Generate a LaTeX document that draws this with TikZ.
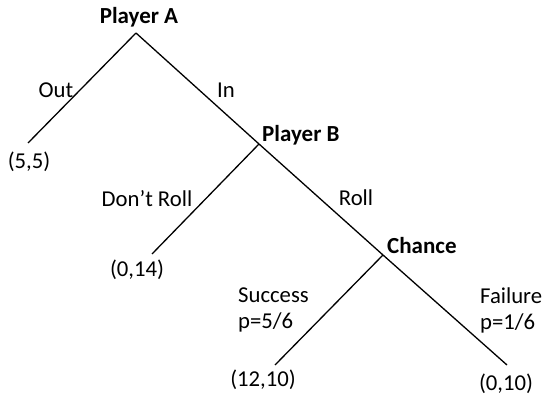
\documentclass[tikz,border=0pt]{standalone}
\usepackage{fontspec}
\setmainfont{Carlito}
\begin{document}
\begin{tikzpicture}[x=1pt,y=-1pt,
  branch/.style={line width=1.3pt,black},
  lbl/.style={inner sep=0pt,font=\fontsize{22.7}{27}\selectfont},
  who/.style={lbl,font=\fontsize{23}{27}\selectfont\bfseries}]
\useasboundingbox (0,0) rectangle (544,396);
% decision nodes and leaves
\coordinate (A) at (136,33);
\coordinate (B) at (259,144);
\coordinate (C) at (383,255);
\coordinate (out) at (28,143);
\coordinate (dr) at (152,254);
\coordinate (succ) at (275,365);
\coordinate (fail) at (507,365);
% branches
\draw[branch] (A) -- (out);
\draw[branch] (A) -- (B);
\draw[branch] (B) -- (dr);
\draw[branch] (B) -- (C);
\draw[branch] (C) -- (succ);
\draw[branch] (C) -- (fail);
% player labels
\node[who] (pa) at (139,17) {Player A};
\node[who,anchor=west] (pb) at (262,135) {Player B};
\node[who,anchor=west] (pc) at (387,246) {Chance};
% action labels
\node[lbl] (lout) at (56,90) {Out};
\node[lbl] (lin) at (226,90) {In};
\node[lbl] (ldr) at (147,199) {Don’t Roll};
\node[lbl] (lroll) at (356,198) {Roll};
\node[lbl,anchor=west,align=left] (ls) at (238,310) {Success\\[-1pt]p=5/6};
\node[lbl,anchor=west,align=left] (lf) at (480,310) {Failure\\[-1pt]p=1/6};
% payoffs
\node[lbl] (p1) at (29,162) {(5,5)};
\node[lbl] (p2) at (137,270) {(0,14)};
\node[lbl] (p3) at (263,380) {(12,10)};
\node[lbl] (p4) at (506,384) {(0,10)};
\end{tikzpicture}
\end{document}
